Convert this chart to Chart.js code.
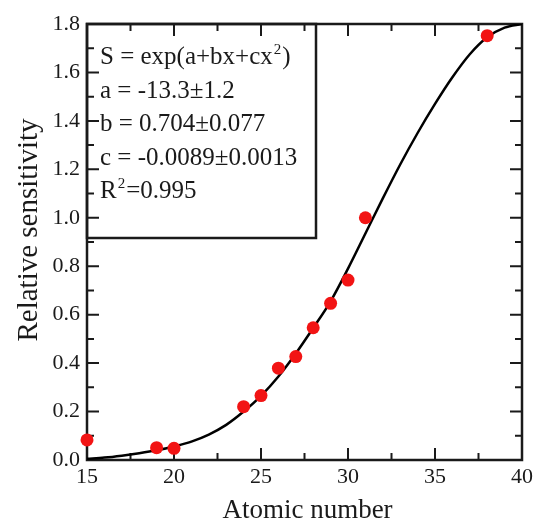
<!DOCTYPE html>
<html>
<head>
<meta charset="utf-8">
<script src="https://cdn.jsdelivr.net/npm/chart.js@4"></script>
<style>
  body { margin: 0; background: #fff; }
</style>
</head>
<body>
<canvas id="chart" width="537" height="521"></canvas>
<script>
// measured points
const atomicNumbers = [15, 19, 20, 24, 25, 26, 27, 28, 29, 30, 31, 38]
const sensitivity = [0.083, 0.051, 0.048, 0.22, 0.266, 0.379, 0.427, 0.546, 0.647, 0.743, 1.0, 1.752]

// fitted curve
const fitZ = [15, 16, 17, 18, 19, 20, 21, 22, 23, 24, 25, 26, 27, 28, 29, 30, 31, 32, 33, 34, 35, 36, 37, 38, 39, 40]
const fitS = [0.005, 0.01, 0.018, 0.028, 0.04, 0.056, 0.076, 0.105, 0.145, 0.2, 0.265, 0.345, 0.44, 0.545, 0.655, 0.79, 0.935, 1.08, 1.22, 1.35, 1.47, 1.58, 1.675, 1.745, 1.785, 1.8]

const fitLines = ['S = exp(a+bx+cx^2)', 'a = -13.3\u00b11.2', 'b = 0.704\u00b10.077', 'c = -0.0089\u00b10.0013', 'R^2=0.995']

const xTitle = 'Atomic number'
const yTitle = 'Relative sensitivity'

const serif = "'Liberation Serif', 'Times New Roman', serif"
const ink = '#1a1a1a'

const drawSup = (ctx, text, x, y, size) => {
  const parts = text.split('^')
  ctx.font = size + 'px ' + serif
  ctx.fillText(parts[0], x, y)
  x += ctx.measureText(parts[0]).width
  if (parts.length < 2) return
  const sup = parts[1].charAt(0)
  const rest = parts[1].slice(1)
  ctx.font = Math.round(size * 0.6) + 'px ' + serif
  ctx.fillText(sup, x + 1, y - size * 0.42)
  x += ctx.measureText(sup).width + 2
  ctx.font = size + 'px ' + serif
  ctx.fillText(rest, x, y)
}

const framePlugin = {
  id: 'frame',
  beforeDatasetsDraw(chart) {
    const { ctx, chartArea: a, scales: { x, y } } = chart
    ctx.save()
    ctx.strokeStyle = ink
    ctx.lineWidth = 2.5
    ctx.strokeRect(a.left, a.top, a.right - a.left, a.bottom - a.top)
    ctx.lineWidth = 2
    ctx.beginPath()
    for (let v = 15; v <= 40.001; v += 2.5) {
      const px = x.getPixelForValue(v)
      const len = Math.abs(v % 5) < 0.01 ? 12 : 7
      ctx.moveTo(px, a.bottom); ctx.lineTo(px, a.bottom - len)
      ctx.moveTo(px, a.top); ctx.lineTo(px, a.top + len)
    }
    for (let i = 0; i <= 18; i++) {
      const py = y.getPixelForValue(i / 10)
      const len = i % 2 === 0 ? 12 : 7
      ctx.moveTo(a.left, py); ctx.lineTo(a.left + len, py)
      ctx.moveTo(a.right, py); ctx.lineTo(a.right - len, py)
    }
    ctx.stroke()
    ctx.restore()
  },
  afterDraw(chart) {
    const { ctx, chartArea: a } = chart
    ctx.save()
    // fit box
    ctx.strokeStyle = ink
    ctx.lineWidth = 2.5
    ctx.strokeRect(a.left, a.top, 229, 214)
    ctx.fillStyle = ink
    ctx.textBaseline = 'alphabetic'
    ctx.textAlign = 'left'
    fitLines.forEach((line, i) => drawSup(ctx, line, a.left + 13, 64 + i * 33.5, 25))
    // axis titles
    ctx.font = '27px ' + serif
    ctx.textAlign = 'center'
    ctx.fillText(xTitle, (a.left + a.right) / 2 + 3, 518)
    ctx.translate(37, 230)
    ctx.rotate(-Math.PI / 2)
    ctx.font = '29px ' + serif
    ctx.fillText(yTitle, 0, 0)
    ctx.restore()
  }
}

new Chart(document.getElementById('chart'), {
  type: 'scatter',
  data: {
    datasets: [
      {
        type: 'line',
        data: fitZ.map((z, i) => ({ x: z, y: fitS[i] })),
        borderColor: '#000',
        borderWidth: 2.5,
        pointRadius: 0,
        cubicInterpolationMode: 'monotone',
        order: 2
      },
      {
        data: atomicNumbers.map((z, i) => ({ x: z, y: sensitivity[i] })),
        backgroundColor: '#f21414',
        borderWidth: 0,
        pointRadius: 6.5,
        clip: false,
        order: 1
      }
    ]
  },
  options: {
    responsive: false,
    animation: false,
    layout: { padding: { top: 24, right: 14, left: 0, bottom: 0 } },
    plugins: { legend: { display: false }, tooltip: { enabled: false } },
    scales: {
      x: {
        type: 'linear',
        min: 15,
        max: 40,
        grid: { display: false, drawTicks: false },
        border: { display: false },
        ticks: { stepSize: 5, padding: 4, color: ink, font: { family: serif, size: 22 } },
        afterFit: (s) => { s.height = 61 }
      },
      y: {
        min: 0,
        max: 1.8,
        grid: { display: false, drawTicks: false },
        border: { display: false },
        ticks: {
          stepSize: 0.2,
          padding: 7,
          color: ink,
          font: { family: serif, size: 22 },
          callback: (v) => v.toFixed(1)
        },
        afterFit: (s) => { s.width = 87 }
      }
    }
  },
  plugins: [framePlugin]
})
</script>
</body>
</html>
